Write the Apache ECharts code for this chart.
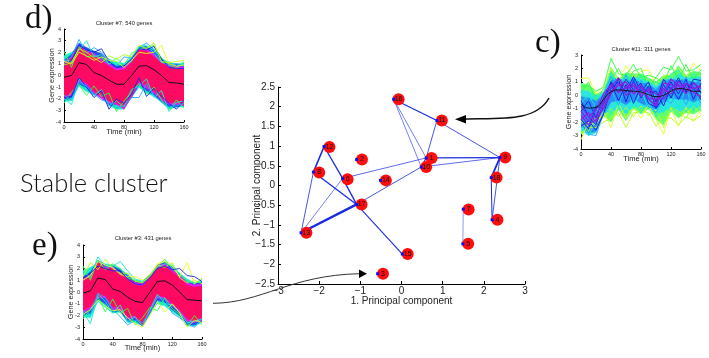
<!DOCTYPE html>
<html><head><meta charset="utf-8">
<style>html,body{margin:0;padding:0;background:#fff}#c{width:709px;height:358px;filter:blur(0.35px)}</style>
<script src="https://cdn.jsdelivr.net/npm/echarts@6/dist/echarts.min.js"></script>
</head><body><div id="c"></div>
<script>
// ---------- network panel ----------
const nodeLabels = ['1','2','3','4','5','6','7','8','9','10','11','12','13','14','15','16','17','18'];
const nodeX = [0.60,-1.09,-0.58,2.20,1.49,-1.43,1.50,-2.14,2.39,0.48,0.86,-1.88,-2.44,-0.51,0.02,-0.19,-1.09,2.18];
const nodeY = [0.70,0.66,-2.24,-0.87,-1.48,0.18,-0.60,0.34,0.71,0.47,1.65,0.99,-1.20,0.13,-1.74,2.19,-0.48,0.20];
const redX = [0.73,-0.96,-0.45,2.33,1.62,-1.31,1.63,-2.00,2.52,0.60,0.98,-1.75,-2.31,-0.38,0.15,-0.07,-0.97,2.31];
const redY = [0.70,0.66,-2.24,-0.87,-1.48,0.16,-0.61,0.33,0.71,0.47,1.65,0.98,-1.20,0.13,-1.74,2.19,-0.48,0.20];
const edgeFrom = [16,16,16,11,11,1,10,1,1,10,6,6,12,12,8,8,13,17,9,9,18,7];
const edgeTo   = [11,1,10,1,9,9,9,10,6,17,13,17,6,8,17,13,17,15,18,4,4,5];
const edgeWeight = [1.3,0.6,0.6,0.8,0.8,1.3,0.7,1.2,0.7,0.8,0.6,1.3,1.3,1.6,1.3,0.8,2.4,1.1,1.8,0.8,1,0.8];

// ---------- expression panels ----------
const times = [0,10,20,30,40,50,60,70,80,90,100,110,120,130,140,150,160];

const dMean = [-0.15,0,1.1,0.95,0.25,0,-0.4,-0.75,-0.75,0,0.8,0.85,0.5,0,-0.6,-0.65,-0.75];
const dPinkHi = [1.05,1.5,2.5,2.1,1.7,1.2,0.8,0.4,0.5,1.1,2.2,2.1,1.6,1.1,0.7,0.6,0.5];
const dPinkLo = [-1.8,-1.5,-0.35,-0.65,-1.35,-1.8,-2.2,-2.35,-2.75,-1.65,-0.5,-0.9,-1.35,-1.9,-2.35,-2.3,-2.5];
const dMagHi = [1.2,1.6,2.6,2.2,1.9,1.4,1.0,0.6,0.7,1.3,2.3,2.3,1.8,1.3,0.9,0.8,0.7];
const dMagLo = [-2.0,-1.7,-0.5,-0.8,-1.5,-2.0,-2.4,-2.5,-2.9,-1.8,-0.7,-1.1,-1.5,-2.1,-2.5,-2.5,-2.6];
const dBlueHi = [1.3,1.8,2.8,2.4,2.1,1.9,1.2,0.8,0.9,1.4,2.4,2.5,2.1,1.4,1.0,1.0,0.9];
const dBlueLo = [-2.2,-1.9,-0.7,-1.1,-1.7,-1.5,-2.6,-2.5,-2.8,-1.9,-0.8,-1.3,-1.7,-2.2,-2.7,-2.7,-2.5];
const dGreenHi = [1.7,2.0,2.4,2.4,1.9,1.6,1.4,1.2,1.0,1.6,2.5,2.5,2.3,1.5,1.1,1.0,1.1];
const dGreenLo = [-2.2,-2.2,-0.9,-1.4,-1.6,-1.9,-2.6,-2.9,-2.9,-1.9,-1.0,-1.5,-1.8,-2.3,-2.9,-2.7,-2.7];
const dUp1 = [2.1,0.7,2.5,1.6,1.7,1.5,1.0,1.5,0.9,1.9,2.3,2.4,2.6,1.5,0.9,0.6,1.2];
const dUp2 = [1.0,1.6,3.1,1.9,2.4,2.0,1.4,0.8,1.6,1.5,2.4,2.8,2.2,1.2,0.8,1.0,0.8];
const dUp3 = [1.3,1.2,2.2,3.0,1.6,1.8,1.0,1.1,1.0,1.2,2.5,2.6,1.9,1.1,1.2,0.8,1.0];
const dUp4 = [0.8,1.3,2.6,2.2,2.0,2.3,1.2,0.7,0.8,1.4,2.3,2.2,2.5,1.4,0.7,0.6,0.6];
const dUp5 = [1.2,1.0,2.0,1.7,1.3,1.6,1.3,1.2,0.7,1.3,2.0,1.9,2.0,2.6,1.0,0.8,0.9];
const dUp6 = [0.9,1.1,2.3,2.0,1.5,1.1,1.7,1.4,1.8,1.6,2.6,2.3,2.8,1.2,1.1,1.2,1.3];
const dLo1 = [-2.4,-1.4,-0.8,-1.7,-0.9,-1.8,-1.5,-3.1,-2.2,-1.4,-0.7,-1.6,-1.0,-2.1,-2.9,-2.1,-2.8];
const dLo2 = [-2.0,-2.5,-0.3,-1.1,-1.7,-1.2,-2.6,-2.2,-2.7,-1.2,-0.9,-0.3,-1.9,-1.3,-3.1,-2.3,-2.2];
const dLo3 = [-1.9,-1.8,-0.2,-1.0,-1.9,-1.3,-2.9,-2.0,-2.4,-1.6,-0.2,-1.8,-1.1,-1.8,-2.4,-2.9,-2.1];
const dLo4 = [-1.7,-2.1,-0.6,-0.9,-1.6,-2.1,-2.3,-2.8,-2.6,-1.9,-1.9,-0.7,-1.7,-2.3,-2.7,-2.6,-2.4];

const eMean = [-0.1,0.1,1.2,1.05,0.25,0.05,-0.45,-0.8,-0.9,0,0.9,0.95,0.6,0,-0.65,-0.7,-0.75];
const ePinkHi = [0.95,1.4,2.5,2.0,2.0,1.5,1.1,0.6,0.5,1.2,2.1,2.2,1.7,1.2,0.6,0.4,0.5];
const ePinkLo = [-1.6,-1.2,-0.3,-0.3,-1.3,-1.3,-2.1,-2.0,-2.8,-1.4,-0.3,-0.4,-1.0,-1.5,-2.3,-2.4,-2.2];
const eMagHi = [1.1,1.5,2.6,2.1,2.1,1.6,1.2,0.8,0.7,1.4,2.3,2.4,1.9,1.4,0.8,0.6,0.7];
const eMagLo = [-1.8,-1.4,-0.5,-0.5,-1.5,-1.5,-2.3,-2.2,-2.9,-1.6,-0.5,-0.6,-1.2,-1.7,-2.5,-2.6,-2.4];
const eBlueHi = [1.3,1.7,2.7,2.3,2.2,1.9,1.4,0.9,0.8,1.5,2.3,2.5,2.1,1.5,0.9,0.8,0.8];
const eBlueLo = [-2.0,-1.8,-0.6,-1.0,-1.7,-1.6,-2.5,-2.4,-2.9,-1.8,-0.7,-0.9,-1.5,-2.0,-2.8,-2.8,-2.5];
const eGreenHi = [1.8,2.1,2.5,2.4,2.3,2.0,1.5,1.0,0.9,1.5,2.2,2.6,2.2,1.6,1.1,0.8,0.9];
const eGreenLo = [-2.1,-2.2,-0.8,-1.3,-1.8,-1.7,-2.6,-2.6,-2.9,-1.9,-1.0,-1.2,-1.7,-2.1,-2.9,-2.9,-2.6];
const eUp1 = [2.2,1.0,2.7,1.9,2.4,2.0,1.2,1.0,0.8,1.3,2.2,2.8,2.0,1.4,1.0,0.7,1.1];
const eUp2 = [1.3,2.5,1.9,2.8,2.0,1.6,1.6,0.9,0.8,1.4,2.3,2.1,2.5,1.2,0.8,1.0,0.7];
const eUp3 = [1.8,1.2,3.0,2.2,2.2,2.6,1.8,1.1,0.9,1.5,2.1,2.4,2.3,1.5,0.9,0.8,0.9];
const eUp4 = [1.0,1.4,2.6,2.3,2.1,1.5,1.3,1.3,1.0,1.5,2.4,2.6,2.2,1.3,2.5,0.7,1.2];
const eUp5 = [1.2,1.6,2.2,2.0,1.8,1.8,1.1,0.7,0.6,1.2,2.0,2.2,1.9,2.0,1.4,1.3,0.9];
const eLo1 = [-2.3,-1.5,-0.4,-1.7,-0.6,-1.8,-1.4,-2.8,-2.2,-1.3,-1.6,-0.5,-1.4,-1.9,-2.9,-2.0,-2.8];
const eLo2 = [-1.7,-2.7,-0.2,-0.8,-1.8,-1.1,-2.5,-2.1,-2.9,-1.5,-0.2,-1.0,-1.1,-1.7,-2.6,-2.5,-2.3];
const eLo3 = [-1.6,-1.9,-0.1,-0.5,-1.5,-2.1,-2.8,-2.4,-2.6,-1.7,-0.4,-0.6,-1.8,-2.2,-2.7,-3.0,-2.2];
const eLo4 = [-1.9,-1.5,-0.7,-1.2,-1.6,-1.5,-2.2,-2.7,-3.0,-2.0,-0.8,-1.7,-1.0,-1.8,-3.0,-2.4,-2.6];

const cMean = [-0.65,-0.95,-0.9,-0.3,0.25,0.4,0.35,0.3,0.25,0.05,-0.1,0,0.3,0.5,0.45,0.3,0.3];
const cGreenHi = [0.9,0.8,0.1,0.3,2.1,1.2,1.7,1.6,1.6,1.3,1.0,1.5,1.5,2.2,1.5,1.8,1.7];
const cGreenLo = [-2.9,-2.6,-2.5,-1.5,-2.0,-1.1,-1.9,-1.0,-1.4,-1.0,-1.8,-2.2,-1.2,-1.7,-1.3,-1.4,-1.1];
const cCyanHi = [0.4,0.3,-0.1,0.2,1.5,1.1,1.3,1.4,1.2,1.0,0.7,1.2,1.1,1.6,1.3,1.3,1.4];
const cCyanLo = [-2.6,-3.0,-2.8,-1.3,-1.2,-1.0,-1.4,-0.8,-1.0,-0.7,-1.4,-1.2,-0.9,-1.3,-0.9,-1.0,-0.8];
const cBlueHi = [-0.1,-0.2,-0.4,0.0,1.1,1.3,0.9,1.3,0.9,0.9,0.4,1.1,1.2,1.1,1.2,0.9,1.1];
const cBlueLo = [-2.3,-2.8,-2.7,-1.5,-0.5,-0.4,-0.7,-0.3,-0.6,-0.9,-1.0,-0.5,-0.2,-0.3,-0.3,-0.5,-0.3];
const cYel1 = [1.25,1.3,0.1,0.7,2.0,1.0,2.2,1.3,1.8,1.9,0.8,1.4,1.6,2.0,1.3,2.4,1.8];
const cYel2 = [-3.3,-2.0,-2.2,-1.2,-2.4,-0.6,-1.7,-0.9,-1.7,-0.7,-1.8,-2.9,-1.0,-2.3,-0.9,-1.9,-1.1];
const cGrn1 = [0.6,0.7,0.3,0.6,2.75,1.6,1.5,2.3,1.3,1.5,1.3,2.1,1.9,2.9,1.8,1.9,2.3];
const cGrn2 = [-2.8,-2.4,-2.4,-2.0,-1.7,-1.3,-2.4,-1.3,-1.2,-1.3,-2.3,-1.6,-1.7,-2.2,-1.6,-1.9,-1.5];
const cGrn3 = [0.2,1.0,-0.4,0.5,1.2,2.0,0.9,1.8,2.0,0.6,1.3,0.9,2.2,1.2,2.3,1.1,1.9];
const cGrn4 = [-1.9,-2.7,-1.6,-1.7,-1.0,-1.6,-0.9,-1.6,-0.8,-1.5,-1.1,-2.4,-0.9,-1.2,-1.7,-0.8,-1.4];
const cCya1 = [0.3,-0.5,0.0,-0.3,1.7,0.6,1.6,0.8,1.5,0.7,1.0,0.6,1.6,1.9,0.8,1.6,0.9];
const cCya2 = [-2.2,-3.0,-1.9,-0.9,-1.4,-0.5,-1.3,-0.5,-1.3,-0.4,-1.6,-0.8,-1.2,-0.7,-1.2,-0.6,-1.2];
const cCya3 = [-0.6,0.1,-1.0,-1.3,0.5,-0.9,1.1,-1.0,0.4,-1.0,0.2,-1.3,0.3,-1.0,0.6,-1.2,0.5];
const cSky1 = [-1.4,-2.9,-3.0,-1.3,0.3,-0.7,0.4,-0.4,0.9,-0.8,-1.3,-0.2,-0.6,0.3,-0.7,0.4,-0.6];
const cSky2 = [-0.2,-1.0,-0.5,0.1,1.4,0.3,1.5,0.2,1.1,0.0,0.6,-0.4,1.3,0.0,1.4,0.1,1.2];
const cDark1 = [-0.4,-1.6,-2.2,-0.6,1.0,0.2,1.2,0.4,0.9,-0.6,-0.9,0.8,-0.2,1.1,0.3,1.0,0.2];
const cDark2 = [-1.8,-2.5,-0.8,-1.0,0.2,1.2,-0.5,1.1,-0.2,0.7,-1.0,-0.1,1.0,0.1,1.2,-0.3,0.9];
const cDark3 = [-1.2,-0.4,-1.7,-0.2,0.9,-0.4,0.8,-0.6,0.7,0.2,0.3,-0.8,0.6,-0.3,0.8,0.5,-0.3];
const cDark4 = [-2.3,-1.9,-2.6,-1.4,0.5,1.0,0.2,1.4,0.3,1.0,-0.5,1.2,0.4,1.3,0.2,1.2,1.1];
const cPur1 = [-1.2,-1.9,-1.5,-0.4,0.6,1.3,0.5,0.7,0.1,0.4,-0.7,0.9,0.8,0.4,0.9,0.6,0.2];
const cPur2 = [-1.8,-1.3,-2.0,-0.7,0.3,0.7,1.0,0.1,0.6,-0.2,-0.3,0.2,1.2,0.7,0.1,0.9,0.5];
const cPur3 = [-0.8,-1.6,-1.1,0.1,0.8,0.2,0.6,0.9,-0.1,0.5,0.1,-0.3,0.5,1.0,0.6,0.2,-0.1];
const cPur4 = [-1.5,-2.2,-1.8,-1.0,0.1,0.9,0.0,0.4,0.8,-0.3,-0.8,0.5,0.1,0.8,0.4,0.5,0.7];

const clusterTitles = ['Cluster #7: 540 genes','Cluster #11: 311 genes','Cluster #3: 431 genes'];

// ---------- helpers ----------
const pairs = (ys) => times.map((t, i) => [t, ys[i]]);
function bandSeries(grid, lo, hi, color) {
  return {
    type: 'custom', xAxisIndex: grid, yAxisIndex: grid, silent: true, clip: true,
    data: pairs(lo),
    renderItem(params, api) {
      if (params.dataIndex !== 0) return null;
      const top = times.map((t, i) => api.coord([t, hi[i]]));
      const bottom = times.map((t, i) => api.coord([t, lo[i]])).reverse();
      return { type: 'polygon', shape: { points: top.concat(bottom) },
        style: { fill: color, stroke: color, lineWidth: 0.5 } };
    }
  };
}
function curve(grid, ys, color, width, smooth) {
  return { type: 'line', xAxisIndex: grid, yAxisIndex: grid, data: pairs(ys), symbol: 'none', silent: true,
    smooth: !!smooth, lineStyle: { color, width } };
}
const sans = '"Liberation Sans", Arial, sans-serif';
const serif = '"Liberation Serif", serif';
function smallX(grid, gap) {
  return { gridIndex: grid, type: 'value', min: 0, max: 160, interval: 40,
    splitLine: { show: false },
    axisLine: { onZero: false, lineStyle: { color: '#000', width: 1 } },
    axisTick: { inside: true, length: 2, lineStyle: { color: '#000' } },
    axisLabel: { fontSize: 5.5, fontFamily: sans, color: '#222', margin: 2 },
    name: 'Time (min)', nameLocation: 'middle', nameGap: gap, nameMoveOverlap: false,
    nameTextStyle: { fontSize: 7.5, fontFamily: sans, color: '#222' } };
}
function smallY(grid, min, max) {
  return { gridIndex: grid, type: 'value', min, max, interval: 1,
    splitLine: { show: false },
    axisLine: { onZero: false, lineStyle: { color: '#000', width: 1 } },
    axisTick: { inside: true, length: 2, lineStyle: { color: '#000' } },
    axisLabel: { fontSize: 5.5, fontFamily: sans, color: '#222', margin: 3 },
    name: 'Gene expression', nameLocation: 'middle', nameGap: 8, nameMoveOverlap: false,
    nameTextStyle: { fontSize: 7.2, fontFamily: sans, color: '#222' } };
}
const minusFmt = (v) => String(v).replace('-', '\u2212');
const green = '#2cff3c', lime = '#b6ff10', yellow = '#e8ff20', cyan = '#10f0d0', sky = '#20a8ff', blue = '#1428e6',
      pink = '#ff0a62', magenta = '#e81cf0', purple = '#8a20e0';

const series = [];
// grid 0: network
edgeFrom.forEach((a, i) => {
  const b = edgeTo[i];
  series.push({ type: 'line', xAxisIndex: 0, yAxisIndex: 0, symbol: 'none', silent: true,
    data: [[nodeX[a-1], nodeY[a-1]], [nodeX[b-1], nodeY[b-1]]],
    lineStyle: { color: i === 21 ? '#7080f0' : '#1a2ce0', width: edgeWeight[i] } });
});
series.push({ type: 'scatter', xAxisIndex: 0, yAxisIndex: 0, symbol: 'circle', symbolSize: 12, z: 3,
  itemStyle: { color: '#ff0d0d', opacity: 1 }, data: redX.map((x, i) => [x, redY[i], nodeLabels[i]]),
  label: { show: true, position: 'inside', formatter: (p) => p.value[2], fontSize: 7, fontFamily: sans, color: '#111' } });
series.push({ type: 'scatter', xAxisIndex: 0, yAxisIndex: 0, symbol: 'rect', symbolSize: 3, z: 4,
  itemStyle: { color: '#1010f0', opacity: 1 }, data: nodeX.map((x, i) => [x, nodeY[i]]) });

// grid 1: panel d
[[dUp1,green],[dUp2,sky],[dUp3,cyan],[dUp4,blue],[dUp5,yellow],[dUp6,lime],[dLo1,green],[dLo2,cyan],[dLo3,blue],[dLo4,sky]]
  .forEach(([y,c]) => series.push(curve(1, y, c, 0.9)));
series.push(bandSeries(1, dGreenLo, dGreenHi, '#18eec8'));
series.push(bandSeries(1, dBlueLo, dBlueHi, '#2050f0'));
series.push(bandSeries(1, dMagLo, dMagHi, magenta));
series.push(bandSeries(1, dPinkLo, dPinkHi, pink));
series.push(curve(1, dMean, '#111', 1));

// grid 2: panel c
[[cYel1,yellow],[cYel2,yellow],[cGrn1,green],[cGrn2,lime]].forEach(([y,c]) => series.push(curve(2, y, c, 0.9)));
series.push(bandSeries(2, cGreenLo, cGreenHi, '#60ff70'));
[[cGrn3,green],[cGrn4,lime]].forEach(([y,c]) => series.push(curve(2, y, c, 0.9)));
series.push(bandSeries(2, cCyanLo, cCyanHi, '#30e4e0'));
[cCya1,cCya2,cCya3].forEach((y) => series.push(curve(2, y, cyan, 0.9)));
series.push(bandSeries(2, cBlueLo, cBlueHi, '#2a8cf6'));
[cSky1,cSky2].forEach((y) => series.push(curve(2, y, sky, 0.9)));
[cDark1,cDark2,cDark3,cDark4].forEach((y) => series.push(curve(2, y, blue, 1)));
[cPur1,cPur2,cPur3,cPur4].forEach((y) => series.push(curve(2, y, purple, 1.2)));
series.push(curve(2, cMean, '#111', 1, true));

// grid 3: panel e
[[eUp1,green],[eUp2,lime],[eUp3,cyan],[eUp4,yellow],[eUp5,blue],[eLo1,green],[eLo2,cyan],[eLo3,sky],[eLo4,yellow]]
  .forEach(([y,c]) => series.push(curve(3, y, c, 0.9)));
series.push(bandSeries(3, eGreenLo, eGreenHi, '#18eec8'));
series.push(bandSeries(3, eBlueLo, eBlueHi, '#2050f0'));
series.push(bandSeries(3, eMagLo, eMagHi, magenta));
series.push(bandSeries(3, ePinkLo, ePinkHi, pink));
series.push(curve(3, eMean, '#111', 1));

const titleStyle = { fontSize: 5.8, fontWeight: 'normal', fontFamily: sans, color: '#222' };
const option = {
  animation: false,
  backgroundColor: '#fff',
  title: [
    { text: clusterTitles[0], left: 124, top: 20, padding: 0, textAlign: 'center', textStyle: titleStyle },
    { text: clusterTitles[1], left: 641, top: 46, padding: 0, textAlign: 'center', textStyle: titleStyle },
    { text: clusterTitles[2], left: 143, top: 235, padding: 0, textAlign: 'center', textStyle: titleStyle }
  ],
  grid: [
    { left: 278, top: 87, width: 247, height: 197 },
    { left: 64, top: 29, width: 120, height: 93 },
    { left: 581, top: 55, width: 120, height: 94 },
    { left: 83, top: 245, width: 119, height: 94 }
  ],
  xAxis: [
    { gridIndex: 0, type: 'value', min: -3, max: 3, interval: 1, splitLine: { show: false },
      axisLine: { onZero: false, lineStyle: { color: '#000', width: 1 } },
      axisTick: { inside: true, length: 3, lineStyle: { color: '#000' } },
      axisLabel: { fontSize: 10, fontFamily: sans, color: '#222', margin: 2, formatter: minusFmt },
      name: '1. Principal component', nameLocation: 'middle', nameGap: 12, nameMoveOverlap: false,
      nameTextStyle: { fontSize: 10, fontFamily: sans, color: '#222' } },
    smallX(1, 6), smallX(2, 6), smallX(3, 5)
  ],
  yAxis: [
    { gridIndex: 0, type: 'value', min: -2.5, max: 2.5, interval: 0.5, splitLine: { show: false },
      axisLine: { onZero: false, lineStyle: { color: '#000', width: 1 } },
      axisTick: { inside: true, length: 3, lineStyle: { color: '#000' } },
      axisLabel: { fontSize: 10, fontFamily: sans, color: '#222', margin: 3, formatter: minusFmt },
      name: '2. Principal component', nameLocation: 'middle', nameGap: 16, nameMoveOverlap: false,
      nameTextStyle: { fontSize: 10, fontFamily: sans, color: '#222' } },
    smallY(1, -4, 4), smallY(2, -4, 3), smallY(3, -4, 4)
  ],
  series,
  graphic: [
    { type: 'text', left: 25, top: 3, style: { text: 'd)', font: '33px ' + serif, fill: '#111' } },
    { type: 'text', left: 535, top: 27, style: { text: 'c)', font: '33px ' + serif, fill: '#111' } },
    { type: 'text', left: 32, top: 230, style: { text: 'e)', font: '33px ' + serif, fill: '#111' } },
    { type: 'text', left: 20, top: 171, style: { text: 'Stable cluster', font: '300 25.5px Lato, sans-serif', fill: '#111' } },
    { type: 'bezierCurve', z: 10, shape: { x1: 549, y1: 98, cpx1: 536, cpy1: 122, cpx2: 500, cpy2: 118, x2: 464, y2: 119 },
      style: { stroke: '#111', fill: 'none', lineWidth: 1.5 } },
    { type: 'polygon', z: 10, shape: { points: [[455,119.3],[466,115],[466,123.5]] }, style: { fill: '#000' } },
    { type: 'bezierCurve', z: 10, shape: { x1: 213, y1: 303.3, cpx1: 262, cpy1: 303, cpx2: 290, cpy2: 275, x2: 360, y2: 273.7 },
      style: { stroke: '#333', fill: 'none', lineWidth: 1 } },
    { type: 'polygon', z: 10, shape: { points: [[367,273.7],[359,269.5],[359,278]] }, style: { fill: '#000' } }
  ]
};
const chart = echarts.init(document.getElementById('c'), null, { renderer: 'canvas' });
chart.setOption(option);
</script></body></html>
